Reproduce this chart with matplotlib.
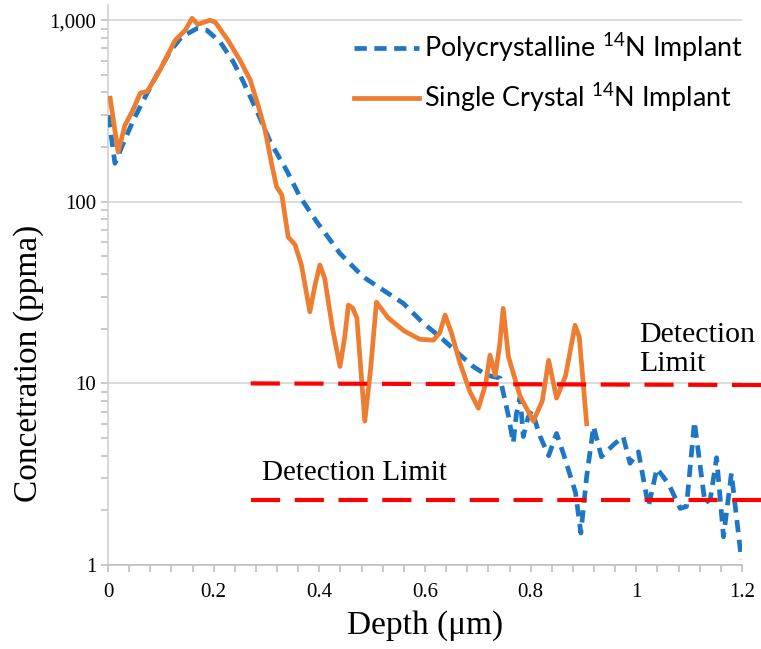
import numpy as np
import matplotlib
matplotlib.use("Agg")
import matplotlib.pyplot as plt
from matplotlib.ticker import MultipleLocator, LogLocator, FuncFormatter, NullFormatter

# Data
single_x = [0.004, 0.019, 0.032, 0.047, 0.061, 0.074, 0.098, 0.127, 0.146, 0.159,
            0.17, 0.193, 0.203, 0.227, 0.25, 0.269, 0.284, 0.297, 0.31, 0.319,
            0.329, 0.341, 0.354, 0.366, 0.382, 0.392, 0.401, 0.41, 0.425, 0.439,
            0.448, 0.455, 0.463, 0.471, 0.486, 0.497, 0.508, 0.53, 0.56, 0.59,
            0.616, 0.628, 0.638, 0.65, 0.666, 0.685, 0.701, 0.715, 0.723, 0.733,
            0.741, 0.748, 0.758, 0.78, 0.805, 0.822, 0.834, 0.849, 0.866, 0.884,
            0.892, 0.906]
single_y = [372, 188, 264, 320, 397, 405, 530, 776, 880, 1025,
            950, 1000, 975, 776, 600, 470, 340, 250, 160, 121,
            109, 64, 58, 45, 24.8, 35, 44.9, 38, 20, 12.4,
            18, 27, 26, 23, 6.2, 12, 28, 23, 19.5, 17.5,
            17.3, 19, 23.8, 19, 13, 9, 7.3, 10, 14.3, 11.1,
            16, 25.9, 14, 8.5, 6.2, 8, 13.4, 8.3, 11, 20.9,
            18, 6.0]

poly_x = [0.0006, 0.013, 0.026, 0.048, 0.067, 0.092, 0.117, 0.139, 0.168, 0.187,
          0.212, 0.237, 0.256, 0.281, 0.307, 0.338, 0.363, 0.395, 0.439, 0.483,
          0.521, 0.559, 0.597, 0.628, 0.66, 0.691, 0.717, 0.742, 0.758, 0.767,
          0.773, 0.78, 0.786, 0.795, 0.802, 0.818, 0.834, 0.849, 0.862, 0.875,
          0.885, 0.895, 0.906, 0.919, 0.934, 0.957, 0.975, 0.988, 1.004, 1.023,
          1.039, 1.061, 1.083, 1.095, 1.11, 1.13, 1.14, 1.152, 1.165, 1.18, 1.199]
poly_y = [300, 163, 201, 282, 363, 498, 670, 809, 900, 881,
          760, 590, 458, 320, 214, 149, 107, 77.6, 52, 38.6,
          32.6, 27.6, 21.4, 18.1, 14.9, 12.4, 11.1, 10.7, 6.6, 4.7,
          6.8, 8.4, 5.1, 6.5, 7.1, 5.1, 4.0, 5.3, 4.1, 3.1,
          2.5, 1.5, 3.07, 5.8, 3.95, 4.6, 5.1, 3.63, 4.2, 2.1,
          3.4, 2.8, 2.05, 2.1, 6.15, 2.19, 2.3, 3.9, 1.43, 3.2, 1.07]

limit_x = [0.27, 1.237]
limit_hi = [10.0, 9.8]
limit_lo = [2.28, 2.28]

plt.rcParams['font.family'] = ['Liberation Serif', 'DejaVu Serif']
plt.rcParams['mathtext.fontset'] = 'custom'
plt.rcParams['mathtext.rm'] = 'Lato'

fig = plt.figure(figsize=(7.61, 6.49), dpi=100)
ax = fig.add_axes([0.142, 0.1294, 0.833, 0.8626])

ax.set_yscale('log')
ax.set_xlim(0, 1.2)
ax.set_ylim(1, 1210)

ax.grid(axis='y', which='major', color='#d9d9d9', lw=1.3)
ax.set_axisbelow(True)

ax.plot(poly_x, poly_y, color='#1f77c4', lw=3.4, ls=(0, (2.6, 1.6)),
        label='Polycrystalline $^{14}$N Implant', zorder=3)
ax.plot(single_x, single_y, color='#ed7d31', lw=3.4,
        label='Single Crystal $^{14}$N Implant', zorder=4)

for ly in (limit_hi, limit_lo):
    ax.plot(limit_x, ly, color='#ff0000', lw=3, ls=(0, (7, 3.5)),
            clip_on=False, zorder=5)

ax.text(0.292, 3.2, 'Detection Limit', fontsize=21, ha='left', va='center')
ax.text(1.005, 15.4, 'Detection\nLimit', fontsize=21.5, ha='left', va='center',
        multialignment='left', linespacing=1.15)

for s in ('top', 'right'):
    ax.spines[s].set_visible(False)
ax.spines['left'].set_color('#d0d0d0')
ax.spines['bottom'].set_color('#bfbfbf')
ax.spines['left'].set_linewidth(1.2)
ax.spines['bottom'].set_linewidth(1.2)

ax.xaxis.set_major_locator(MultipleLocator(0.2))
ax.xaxis.set_minor_locator(MultipleLocator(0.04))
ax.xaxis.set_major_formatter(FuncFormatter(lambda v, p: '0' if abs(v) < 1e-9 else ('%g' % v)))
ax.yaxis.set_major_locator(LogLocator(base=10, numticks=10))
ax.yaxis.set_minor_locator(LogLocator(base=10, subs=np.arange(2, 10), numticks=10))
ax.yaxis.set_minor_formatter(NullFormatter())
ax.yaxis.set_major_formatter(FuncFormatter(lambda v, p: '{:,.0f}'.format(v)))
ax.tick_params(which='both', direction='out', color='#bfbfbf', width=1.2, length=5)
ax.tick_params(labelsize=15)
ax.tick_params(axis='x', pad=8)

ax.set_xlabel('Depth (\u03bcm)', fontsize=24, labelpad=6)
ax.set_ylabel('Concetration (ppma)', fontsize=24, va='center')
ax.yaxis.set_label_coords(-0.126, 0.36)

leg = ax.legend(loc='upper right', bbox_to_anchor=(1.04, 0.998), frameon=False,
                prop={'family': 'Lato', 'size': 19.4}, handlelength=2.4,
                handletextpad=0.2, labelspacing=0.62)

fig.savefig('out.png', dpi=100)
